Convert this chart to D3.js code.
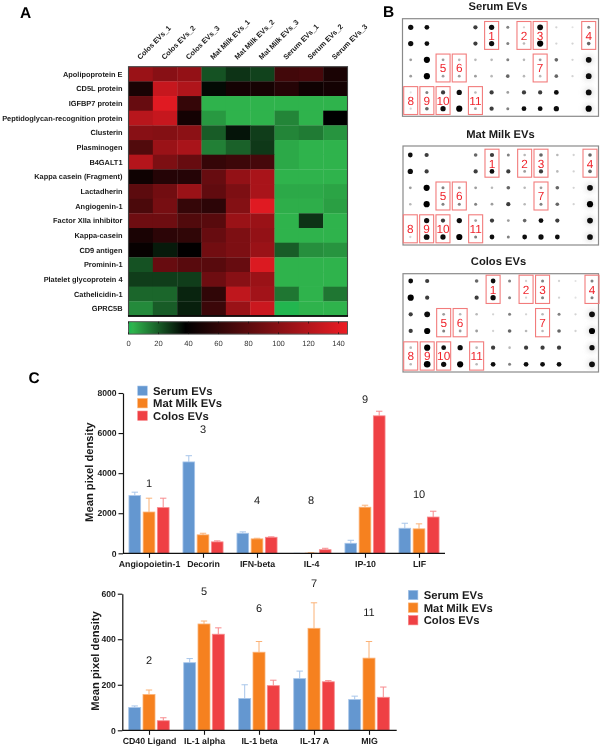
<!DOCTYPE html>
<html><head><meta charset="utf-8">
<script src="https://cdn.jsdelivr.net/npm/d3@7"></script>
<style>
html,body{margin:0;padding:0;background:#fff}
svg{display:block;opacity:.999}
text{font-family:"Liberation Sans",Arial,sans-serif;fill:#1a1a1a;text-rendering:geometricPrecision}
.b{font-weight:700}
</style></head><body>
<svg id="c" width="600" height="747"></svg>
<script>
// ---------- Panel A data ----------
const heatCols = ["Colos EVs_1","Colos EVs_2","Colos EVs_3","Mat Milk EVs_1","Mat Milk EVs_2","Mat Milk EVs_3","Serum EVs_1","Serum EVs_2","Serum EVs_3"];
const heatRows = ["Apolipoprotein E","CD5L protein","IGFBP7 protein","Peptidoglycan-recognition protein","Clusterin","Plasminogen","B4GALT1","Kappa casein (Fragment)","Lactadherin","Angiogenin-1","Factor XIIa inhibitor","Kappa-casein","CD9 antigen","Prominin-1","Platelet glycoprotein 4","Cathelicidin-1","GPRC5B"];
const heatValues = [
 [108,100,105,22,28,25,68,70,50],
 [50,128,118,36,47,48,55,45,47],
 [85,140,62,3,3,3,3,3,3],
 [122,128,47,8,3,3,12,3,38],
 [100,98,102,20,34,26,12,14,9],
 [75,108,115,13,19,27,5,3,3],
 [120,95,85,62,66,70,5,3,3],
 [45,55,55,85,105,115,3,3,3],
 [80,90,108,82,95,115,5,5,6],
 [72,92,62,58,98,140,4,4,7],
 [88,88,75,78,108,108,3,28,3],
 [50,58,60,85,95,105,3,3,3],
 [41,33,39,90,95,108,20,10,9],
 [22,85,78,78,85,138,3,3,3],
 [26,26,26,88,100,108,3,3,3],
 [18,18,31,60,125,112,15,3,15],
 [11,20,32,65,108,130,1,3,3]];
const heatTicks = [0,20,40,60,80,100,120,140];

// ---------- Panel B data (spot intensity, 0 = no spot) ----------
const blotSerum = [
 [8,7,0,0,6,8,4,1,9,1,0.5,4],[8,7,0,0,6,8,4,2,10,1,1,5],
 [3,10,3,2,2,2,4,2,3,5,1,9],[3,10,3,3,3,2,5,2,2,5,1,9],
 [0.5,4,6,8,2,6,3,6,6,7,0,9],[1,5,8,10,3,6,4,7,7,8,0,10]];
const blotMilk = [
 [7,6,0,0,5,6,4,2,5,2,1,5],[8,6,0,0,6,7,6,3,6,2,1,5],
 [3,10,4,3,3,2,5,2,3,5,1,9],[2,10,4,4,4,3,6,2,4,5,1,10],
 [0,8,6,8,3,6,3,5,7,6,0,9],[1,9,8,10,4,7,4,7,8,7,0,9]];
const blotColos = [
 [7,6,0,0,5,7,4,1,4,1,0.5,4],[10,6,0,0,6,8,4,1,4,1,0.5,4],
 [6,9,3,2,2,1,4,1,2,4,1,9],[6,10,4,3,3,1,5,2,2,5,1,10],
 [2,10,7,8,2,6,2,6,6,6,0,8],[2,11,8,10,2,7,4,7,7,7,0,9]];
const blotLabels = ["1","2","3","4","5","6","7","8","9","10","11"];
const blotCols = [5,7,8,11,2,3,8,0,1,2,4];
const blotRows = [0,0,0,0,2,2,2,4,4,4,4];

// ---------- Panel C data ----------
const groups = ["Serum EVs","Mat Milk EVs","Colos EVs"];
const topCats = ["Angiopoietin-1","Decorin","IFN-beta","IL-4","IP-10","LIF"];
const topSerum = [2880,4560,1000,0,500,1250];
const topMilk = [2060,920,720,10,2300,1220];
const topColos = [2280,570,800,180,6860,1810];
const topSerumHi = [3050,4870,1070,0,650,1500];
const topMilkHi = [2750,1000,750,30,2400,1470];
const topColosHi = [2750,620,820,250,7090,2100];
const topNums = ["1","3","4","8","9","10"];
const topNumVals = [3300,6000,2450,2450,7500,2750];
const topTicks = [0,2000,4000,6000,8000];

const botCats = ["CD40 Ligand","IL-1 alpha","IL-1 beta","IL-17 A","MIG"];
const botSerum = [100,297,140,227,135];
const botMilk = [157,467,343,448,317];
const botColos = [42,422,196,213,145];
const botSerumHi = [107,315,200,260,150];
const botMilkHi = [177,480,390,560,390];
const botColosHi = [55,450,220,218,190];
const botNums = ["2","5","6","7","11"];
const botNumVals = [290,595,520,630,500];
const botTicks = [0,200,400,600];

const svg = d3.select("#c");

// blur filters for the blot spots
const defs = svg.append("defs");
defs.append("filter").attr("id","sp").attr("x","-60%").attr("y","-60%").attr("width","220%").attr("height","220%")
  .append("feGaussianBlur").attr("stdDeviation",0.55);
defs.append("filter").attr("id","halo").attr("x","-100%").attr("y","-100%").attr("width","300%").attr("height","300%")
  .append("feGaussianBlur").attr("stdDeviation",2.6);

function letter(t,x,y){svg.append("text").attr("class","b").attr("x",x).attr("y",y).attr("font-size",15.5).style("fill","#000").text(t);}
letter("A",20,18);letter("B",383,17);letter("C",28.5,383);

// ---------- Panel A ----------
const hx = d3.scaleBand().domain(heatCols).range([128.5,347.5]);
const hy = d3.scaleBand().domain(heatRows).range([66.7,316]);
const hc = d3.scaleLinear().domain([0,3,38,146]).range(["#1cb751","#2fb34c","#000000","#ed1c24"]);
const A = svg.append("g");
heatRows.forEach((r,i)=>{
  A.selectAll(null).data(heatValues[i]).enter().append("rect")
   .attr("x",(d,j)=>hx(heatCols[j])).attr("y",hy(r))
   .attr("width",hx.bandwidth()+0.3).attr("height",hy.bandwidth()+0.3)
   .attr("fill",d=>hc(d));
});
A.append("rect").attr("x",128.5).attr("y",66.7).attr("width",219).attr("height",249.3)
 .attr("fill","none").attr("stroke","#444").attr("stroke-width",1.1);
A.append("line").attr("x1",128).attr("x2",348).attr("y1",316).attr("y2",316).attr("stroke","#000").attr("stroke-width",1.6);
A.selectAll(".rl").data(heatRows).enter().append("text").attr("class","b")
 .attr("x",122.5).attr("y",d=>hy(d)+hy.bandwidth()/2+2.5).attr("text-anchor","end").attr("font-size",7.4).text(d=>d);
A.selectAll(".cl").data(heatCols).enter().append("text").attr("class","b")
 .attr("transform",d=>`translate(${hx(d)+hx.bandwidth()/2-0.5},60) rotate(-45)`)
 .attr("font-size",7.3).text(d=>d);

// colour bar
const cbx = d3.scaleLinear().domain([0,146]).range([128.5,347.5]);
const grad = defs.append("linearGradient").attr("id","cb");
[0,3,38,146].forEach(v=>grad.append("stop").attr("offset",v/146).attr("stop-color",hc(v)));
A.append("rect").attr("x",cbx(0)).attr("y",321.7).attr("width",cbx(146)-cbx(0)).attr("height",12.4)
 .attr("fill","url(#cb)").attr("stroke","#555").attr("stroke-width",1);
A.selectAll(".ct").data(heatTicks).enter().append("path")
 .attr("d",d=>`M${cbx(d)},321.7v1.8M${cbx(d)},334.1v-1.8`).attr("stroke","#111").attr("stroke-width",0.7);
A.selectAll(".ctl").data(heatTicks).enter().append("text")
 .attr("x",d=>cbx(d)).attr("y",346).attr("text-anchor","middle").attr("font-size",7.6).style("fill","#333").text(d=>d);

// ---------- Panel B ----------
function blot(title,titleCx,titleY,box,grid,x0,x1,y0,y1){
  const g = svg.append("g");
  g.append("text").attr("class","b").attr("x",titleCx).attr("y",titleY).attr("text-anchor","middle").attr("font-size",11.2).text(title);
  g.append("rect").attr("x",box[0]).attr("y",box[1]).attr("width",box[2]-box[0]).attr("height",box[3]-box[1])
   .attr("fill","#fff").attr("stroke","#8a8a8a").attr("stroke-width",1.2);
  const sx = d3.scaleLinear().domain([0,11]).range([x0,x1]);
  const sy = d3.scaleLinear().domain([0,5]).range([y0,y1]);
  const rad = d3.scaleSqrt().domain([0,4,11]).range([0.8,1.5,3.3]);
  const grey = d3.scaleLinear().domain([0,2,5,7,11]).range(["#eeeeee","#b8b8b8","#666666","#111111","#000000"]);
  grid.forEach((row,r)=>row.forEach((v,c)=>{
    if(!v) return;
    if(c===11 && r>=2) g.append("circle").attr("cx",sx(c)).attr("cy",sy(r)).attr("r",5).attr("fill","#cfcfcf").attr("opacity",0.55).attr("filter","url(#halo)");
    g.append("circle").attr("cx",sx(c)).attr("cy",sy(r)).attr("r",rad(v)).attr("fill",grey(v)).attr("filter","url(#sp)");
  }));
  blotLabels.forEach((l,i)=>{
    const cx=sx(blotCols[i]), cy=(sy(blotRows[i])+sy(blotRows[i]+1))/2, h=sy(1)-sy(0);
    g.append("rect").attr("x",cx-7).attr("y",cy-h/2-5.8).attr("width",14).attr("height",h+11.6)
     .attr("fill","none").attr("stroke","#f27c7c").attr("stroke-width",1.1);
    g.append("text").attr("x",cx).attr("y",cy+4.3).attr("text-anchor","middle").attr("font-size",11.8).style("fill","#f0262e").text(l);
  });
}
blot("Serum EVs",498,9.7,[402.5,18.7,598.5,116.3],blotSerum,410.7,588.7,27.3,108.7);
blot("Mat Milk EVs",500.5,138,[403,146,598.5,245],blotMilk,410.3,590,155,237);
blot("Colos EVs",498.5,264.7,[403,273.7,598.5,372],blotColos,410.7,592,281,364.3);

// ---------- Panel C ----------
const fills = ["#6497d0","#f6811f","#ef4044"];
const strokes = ["#a8c6ea","#fbb277","#f78a8d"];
function bars(cats,series,highs,nums,numVals,ticks,yMax,x0,x1,yBot,yTop,firstC,step,gap,bw,ttlX){
  const g = svg.append("g");
  const y = d3.scaleLinear().domain([0,yMax]).range([yBot,yTop]);
  const xc = d3.scalePoint().domain(cats).range([firstC,firstC+step*(cats.length-1)]);
  const xi = d3.scalePoint().domain(groups).range([-gap,gap]);
  groups.forEach((s,k)=>{
    const gs = g.append("g");
    gs.selectAll(".e").data(cats).enter().append("path")
      .attr("d",(c,i)=>{const x=xc(c)+xi(s);return `M${x},${y(series[k][i])}V${y(highs[k][i])}M${x-3.2},${y(highs[k][i])}h6.4`;})
      .attr("fill","none").attr("stroke",strokes[k]).attr("stroke-width",1);
    gs.selectAll(".r").data(cats).enter().append("rect")
      .attr("x",c=>xc(c)+xi(s)-bw/2).attr("width",bw)
      .attr("y",(c,i)=>y(series[k][i])).attr("height",(c,i)=>yBot-y(series[k][i]))
      .attr("fill",fills[k]).attr("stroke",strokes[k]).attr("stroke-width",0.8);
  });
  const ay = g.append("g").attr("transform",`translate(${x0},0)`)
    .call(d3.axisLeft(y).tickValues(ticks).tickFormat(d3.format("d")).tickSize(4.5).tickPadding(2).tickSizeOuter(0));
  ay.select(".domain").attr("stroke","#111").attr("stroke-width",1.2);
  ay.selectAll(".tick line").attr("stroke","#111").attr("stroke-width",1.1);
  ay.selectAll("text").attr("class","b").attr("font-size",8.6).attr("font-family",'"Liberation Sans"');
  const ax = g.append("g").attr("transform",`translate(0,${yBot})`)
    .call(d3.axisBottom(xc).tickSize(4.5).tickPadding(3));
  ax.select(".domain").attr("d",`M${x0},0H${x1}`).attr("stroke","#111").attr("stroke-width",1.2);
  ax.selectAll(".tick line").attr("stroke","#111").attr("stroke-width",1.1);
  ax.selectAll("text").attr("class","b").attr("font-size",8.8).attr("font-family",'"Liberation Sans"');
  g.append("text").attr("class","b").attr("transform",`translate(${ttlX},${(yBot+yTop)/2-1}) rotate(-90)`)
    .attr("text-anchor","middle").attr("font-size",11.2).text("Mean pixel density");
  g.selectAll(".n").data(nums).enter().append("text")
    .attr("x",(d,i)=>xc(cats[i])).attr("y",(d,i)=>y(numVals[i])).attr("text-anchor","middle")
    .attr("font-size",11).text(d=>d);
}
bars(topCats,[topSerum,topMilk,topColos],[topSerumHi,topMilkHi,topColosHi],topNums,topNumVals,topTicks,8000,123,445,553.3,393,149,54,14.2,11.7,92.5);
bars(botCats,[botSerum,botMilk,botColos],[botSerumHi,botMilkHi,botColosHi],botNums,botNumVals,botTicks,600,122.3,396.7,730.3,593.7,149,55,14.3,12,99);

function legend(x,y0,dy,tx){
  const g = svg.append("g");
  g.selectAll("rect").data(groups).enter().append("rect")
   .attr("x",x).attr("y",(d,i)=>y0+i*dy).attr("width",9.6).attr("height",9.4)
   .attr("fill",(d,i)=>fills[i]).attr("stroke",(d,i)=>strokes[i]).attr("stroke-width",0.6);
  g.selectAll("text").data(groups).enter().append("text").attr("class","b")
   .attr("x",tx).attr("y",(d,i)=>y0+i*dy+8.9).attr("font-size",11.3).text(d=>d);
}
legend(137.7,386,12.5,153);
legend(408.3,590.3,12.6,423.7);
</script>
</body></html>
